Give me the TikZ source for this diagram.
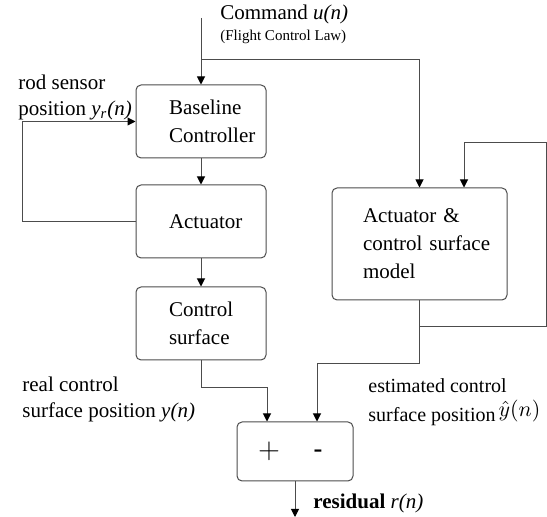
\documentclass[tikz,border=0pt]{standalone}
\usepackage{fontspec}
\setmainfont{Liberation Serif}
\newfontfamily\pmfont{Liberation Sans}
\usetikzlibrary{arrows.meta,calc}
\hyphenpenalty=10000
\exhyphenpenalty=10000
\tikzset{
  >={Triangle[length=4pt,width=4pt,color=black]},
  blk/.style={draw=black!70,line width=0.5pt,rounded corners=2.5pt,
    align=left,font=\fontsize{10.5}{14}\selectfont,inner ysep=0pt},
  blkl/.style={blk,minimum width=65pt,minimum height=36.5pt,
    text width=32pt,inner xsep=16.5pt},
  blkm/.style={blk,minimum width=87.5pt,minimum height=56pt,
    text width=56.5pt,inner xsep=15.5pt},
  sumbox/.style={blk,minimum width=58pt,minimum height=29.5pt,
    font=\pmfont\fontsize{14}{14}\selectfont},
  flow/.style={->,draw=black!70,line width=0.5pt},
  lbl/.style={inner sep=0pt,align=left,anchor=west,
    font=\fontsize{10.5}{13}\selectfont},
}
\begin{document}
\begin{tikzpicture}[x=0.5pt,y=-0.5pt]
  \useasboundingbox (0,0) rectangle (547,517);
  % blocks
  \node[blkl] (base) at (201,121.5) {Baseline\\Controller};
  \node[blkl] (act) at (201,221.5) {Actuator};
  \node[blkl] (surf) at (201,323.5) {Control\\surface};
  \node[blkm] (model) at (419.5,244) {Actuator~\&\\control~surface\\model};
  \node[sumbox] (sum) at (295,451.5) {$+$\hspace{16.7pt}-\kern4.6pt};
  % labels
  \node[lbl] (cmdlbl) at (220,14.5) {Command \textit{u(n)}};
  \node[lbl,font=\fontsize{7.5}{9}\selectfont] (fcl) at (220,37)
    {(Flight Control Law)};
  \node[lbl] (rodlbl) at (18,97)
    {rod sensor\\position \textit{y}\textsubscript{\textit{r}}\textit{(n)}};
  \node[lbl] (reallbl) at (22,399)
    {real control\\surface position \textit{y(n)}};
  \node[lbl,font=\fontsize{10}{14.5}\selectfont] (estlbl) at (368,402)
    {estimated control\\surface position\kern1.5pt\raisebox{2.5pt}{\fontsize{11}{11}\selectfont$\hat{y}(n)$}};
  \node[lbl] (reslbl) at (313,503) {\textbf{residual} \textit{r(n)}};
  % signal paths
  \coordinate (cmd) at (201,18);
  \coordinate (split) at (201,60);
  \coordinate (loopc) at (546,143);
  \coordinate (res) at (295,517);
  \draw[flow] (cmd) -- (base);
  \draw[flow] (split) -| (model);
  \draw[flow] (base) -- (act);
  \draw[flow] (act) -- (surf);
  \draw[flow] (act.west) -- ++(-113,0) |- (base.west);
  \draw[flow] (model.south) -- ++(0,26) -| (loopc) -| ($(model.north)+(44.5,0)$);
  \draw[flow] (model.south) -- ++(0,63) -| ($(sum.north)+(22,0)$);
  \draw[flow] (surf.south) -- ++(0,27) -| ($(sum.north)+(-28,0)$);
  \draw[flow] (sum) -- (res);
\end{tikzpicture}
\end{document}
